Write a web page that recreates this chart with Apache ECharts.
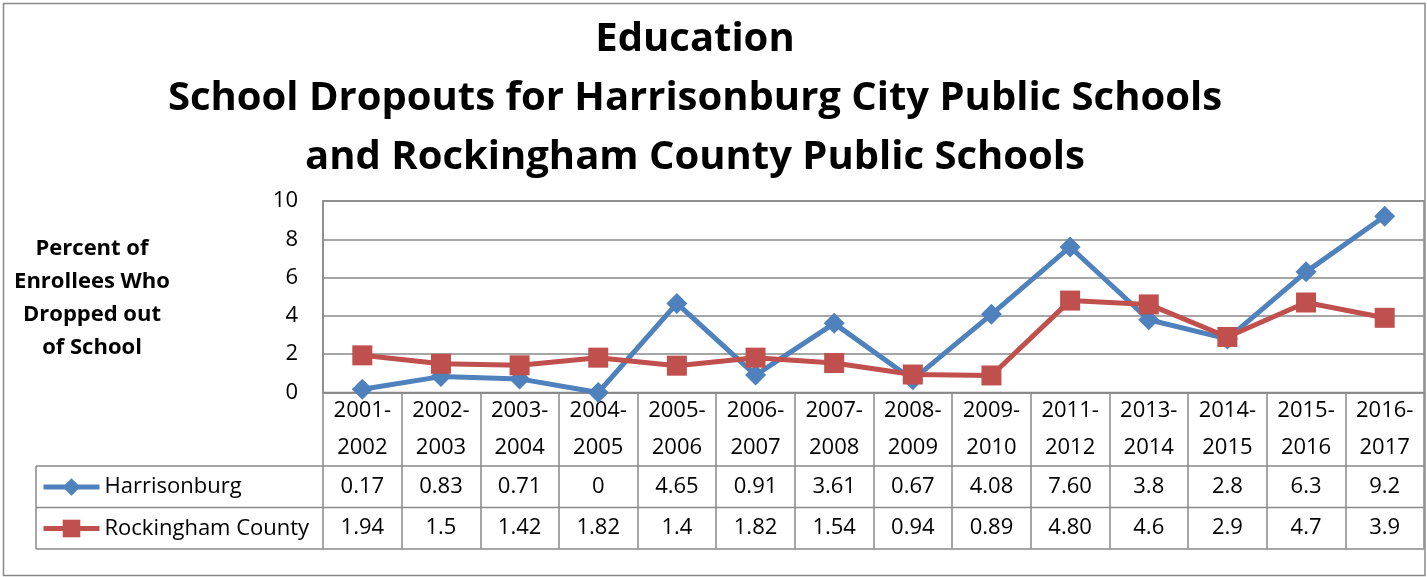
<!DOCTYPE html>
<html>
<head>
<meta charset="utf-8">
<script src="https://cdn.jsdelivr.net/npm/echarts@6/dist/echarts.min.js"></script>
<style>
html,body{margin:0;padding:0;background:#fff;}
#chart{width:1427px;height:577px;}
</style>
</head>
<body>
<div id="chart"></div>
<script>
const titleLines = ['Education', 'School Dropouts for Harrisonburg City Public Schools', 'and Rockingham County Public Schools'];
const yAxisTitleLines = ['Percent of', 'Enrollees Who', 'Dropped out', 'of School'];
const categories = ['2001-2002','2002-2003','2003-2004','2004-2005','2005-2006','2006-2007','2007-2008','2008-2009','2009-2010','2011-2012','2013-2014','2014-2015','2015-2016','2016-2017'];
const harrisonburg = [0.17, 0.83, 0.71, 0, 4.65, 0.91, 3.61, 0.67, 4.08, 7.60, 3.8, 2.8, 6.3, 9.2];
const rockingham = [1.94, 1.5, 1.42, 1.82, 1.4, 1.82, 1.54, 0.94, 0.89, 4.80, 4.6, 2.9, 4.7, 3.9];
const harrisonburgLabels = ['0.17','0.83','0.71','0','4.65','0.91','3.61','0.67','4.08','7.60','3.8','2.8','6.3','9.2'];
const rockinghamLabels = ['1.94','1.5','1.42','1.82','1.4','1.82','1.54','0.94','0.89','4.80','4.6','2.9','4.7','3.9'];
const seriesNames = ['Harrisonburg', 'Rockingham County'];
const yTicks = [0, 2, 4, 6, 8, 10];

const FONT = '"Open Sans", "Noto Sans", sans-serif';
const GRID_COLOR = '#898989';
const BLUE = '#4F81BD';
const RED = '#C0504D';

const chart = echarts.init(document.getElementById('chart'), null, {renderer: 'canvas'});

const graphics = [];
// outer border
graphics.push({type: 'rect', shape: {x: 3.5, y: 3.5, width: 1421.5, height: 572}, style: {fill: 'none', stroke: GRID_COLOR, lineWidth: 1.5}, z: -1});
// title
titleLines.forEach((t, i) => {
  graphics.push({type: 'text', x: 695, y: 40 + i * 59, style: {text: t, font: 'bold 40px ' + FONT, fill: '#000', textAlign: 'center', textVerticalAlign: 'middle'}});
});
// y axis title
yAxisTitleLines.forEach((t, i) => {
  graphics.push({type: 'text', x: 92, y: 249 + i * 33, style: {text: t, font: 'bold 22px ' + FONT, fill: '#000', textAlign: 'center', textVerticalAlign: 'middle'}});
});
// table lines
[466, 507.5, 549].forEach(y => {
  graphics.push({type: 'line', shape: {x1: 36, y1: y, x2: 1424, y2: y}, style: {stroke: GRID_COLOR, lineWidth: 1.5}});
});
graphics.push({type: 'line', shape: {x1: 36, y1: 466, x2: 36, y2: 549}, style: {stroke: GRID_COLOR, lineWidth: 1.5}});

const option = {
  backgroundColor: '#fff',
  animation: false,
  grid: {left: 323, right: 3, top: 201, bottom: 184.5, show: true, borderColor: GRID_COLOR, borderWidth: 1.5, containLabel: false},
  legend: {
    orient: 'vertical', left: 41, top: 476, padding: 0, itemGap: 19.5,
    itemWidth: 56, itemHeight: 22,
    lineStyle: {width: 5},
    textStyle: {fontFamily: FONT, fontSize: 22, color: '#000'},
    data: seriesNames
  },
  xAxis: {
    type: 'category', data: categories, boundaryGap: true,
    axisLine: {show: true, lineStyle: {color: GRID_COLOR, width: 1.5}},
    axisTick: {show: true, interval: 0, length: 156, lineStyle: {color: GRID_COLOR, width: 1.5}},
    axisLabel: {
      interval: 0, margin: 0, color: '#000',
      formatter: (value, idx) => {
        const parts = value.split('-');
        return '{c|' + parts[0] + '-}\n{c|' + parts[1] + '}\n{v|' + harrisonburgLabels[idx] + '}\n{v|' + rockinghamLabels[idx] + '}';
      },
      rich: {
        c: {fontFamily: FONT, fontSize: 22, lineHeight: 36.5, color: '#000', align: 'center'},
        v: {fontFamily: FONT, fontSize: 22, lineHeight: 41.5, color: '#000', align: 'center'}
      }
    }
  },
  yAxis: {
    type: 'value', min: yTicks[0], max: yTicks[yTicks.length - 1], interval: 2,
    axisLine: {show: true, lineStyle: {color: GRID_COLOR, width: 1.5}},
    axisTick: {show: false},
    splitLine: {show: true, lineStyle: {color: GRID_COLOR, width: 1.5}},
    axisLabel: {margin: 25, fontFamily: FONT, fontSize: 22, color: '#000'}
  },
  series: [
    {
      name: seriesNames[0], type: 'line', data: harrisonburg,
      symbol: 'diamond', symbolSize: 21,
      lineStyle: {color: BLUE, width: 5},
      itemStyle: {color: BLUE},
      z: 2
    },
    {
      name: seriesNames[1], type: 'line', data: rockingham,
      symbol: 'rect', symbolSize: 20,
      lineStyle: {color: RED, width: 5},
      itemStyle: {color: RED},
      z: 3
    }
  ],
  graphic: graphics
};
chart.setOption(option);
</script>
</body>
</html>
